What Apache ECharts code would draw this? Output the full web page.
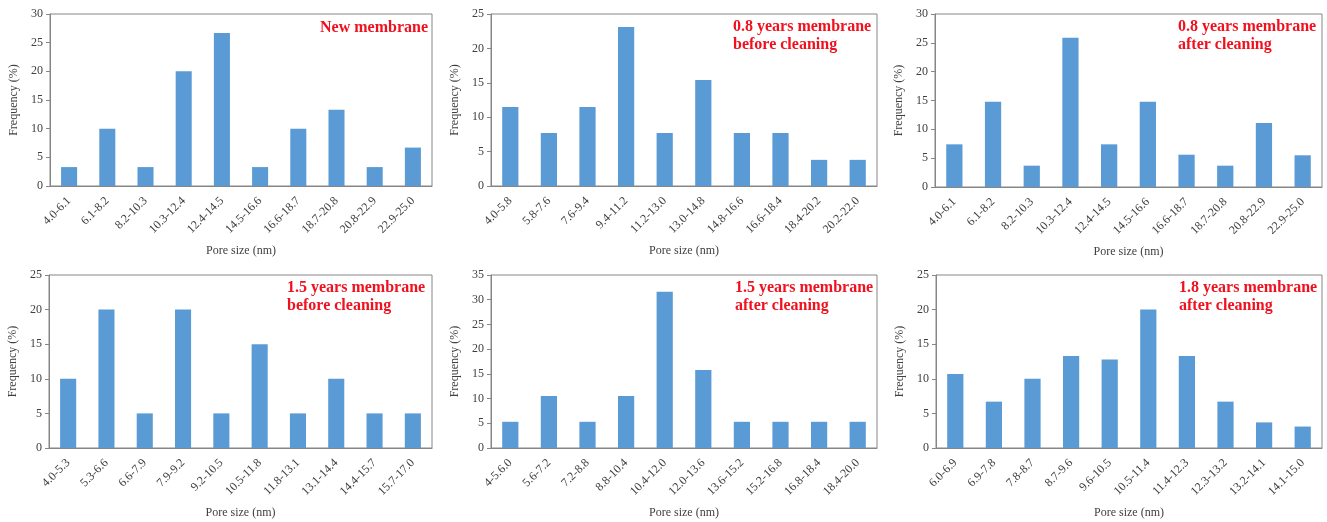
<!DOCTYPE html>
<html><head><meta charset="utf-8">
<script src="https://cdn.jsdelivr.net/npm/echarts@6/dist/echarts.min.js"></script>
<style>html,body{margin:0;padding:0;background:#fff}#c{width:1327px;height:522px}</style>
</head><body><div id="c"></div>
<script>
// Categories (pore size ranges, nm)
const cat1 = ['4.0-6.1','6.1-8.2','8.2-10.3','10.3-12.4','12.4-14.5','14.5-16.6','16.6-18.7','18.7-20.8','20.8-22.9','22.9-25.0'];
const cat2 = ['4.0-5.8','5.8-7.6','7.6-9.4','9.4-11.2','11.2-13.0','13.0-14.8','14.8-16.6','16.6-18.4','18.4-20.2','20.2-22.0'];
const cat3 = ['4.0-6.1','6.1-8.2','8.2-10.3','10.3-12.4','12.4-14.5','14.5-16.6','16.6-18.7','18.7-20.8','20.8-22.9','22.9-25.0'];
const cat4 = ['4.0-5.3','5.3-6.6','6.6-7.9','7.9-9.2','9.2-10.5','10.5-11.8','11.8-13.1','13.1-14.4','14.4-15.7','15.7-17.0'];
const cat5 = ['4-5.6.0','5.6-7.2','7.2-8.8','8.8-10.4','10.4-12.0','12.0-13.6','13.6-15.2','15.2-16.8','16.8-18.4','18.4-20.0'];
const cat6 = ['6.0-6.9','6.9-7.8','7.8-8.7','8.7-9.6','9.6-10.5','10.5-11.4','11.4-12.3','12.3-13.2','13.2-14.1','14.1-15.0'];
// Frequencies (%)
const val1 = [3.3, 10, 3.3, 20, 26.7, 3.3, 10, 13.3, 3.3, 6.7];
const val2 = [11.5, 7.7, 11.5, 23.1, 7.7, 15.4, 7.7, 7.7, 3.8, 3.8];
const val3 = [7.4, 14.8, 3.7, 25.9, 7.4, 14.8, 5.6, 3.7, 11.1, 5.5];
const val4 = [10, 20, 5, 20, 5, 15, 5, 10, 5, 5];
const val5 = [5.3, 10.5, 5.3, 10.5, 31.6, 15.8, 5.3, 5.3, 5.3, 5.3];
const val6 = [10.7, 6.7, 10, 13.3, 12.8, 20, 13.3, 6.7, 3.7, 3.1];
// Y axis maxima
const ymax = [30, 25, 30, 25, 35, 25];
// Panel titles
const titles = ['New membrane', '0.8 years membrane\nbefore cleaning', '0.8 years membrane\nafter cleaning',
  '1.5 years membrane\nbefore cleaning', '1.5 years membrane\nafter cleaning', '1.8 years membrane\nafter cleaning'];

const cats = [cat1, cat2, cat3, cat4, cat5, cat6];
const vals = [val1, val2, val3, val4, val5, val6];
const grids = [
  {left: 50, top: 14, width: 382, height: 172},
  {left: 491, top: 14, width: 386, height: 172},
  {left: 935, top: 14, width: 387, height: 173},
  {left: 49, top: 275, width: 383, height: 173},
  {left: 491, top: 275, width: 386, height: 173},
  {left: 936, top: 275, width: 386, height: 173}
];
const titlePos = [
  {right: 899, top: 19},
  {left: 733, top: 18},
  {left: 1178, top: 18},
  {left: 287, top: 279},
  {left: 735, top: 279},
  {left: 1179, top: 279}
];
const FONT = '"Liberation Serif", "Times New Roman", serif';
const txt = '#404040';
const axisC = '#868686';

const option = {
  animation: false,
  backgroundColor: '#fff',
  title: titles.map((t, i) => Object.assign({
    text: t, padding: 0,
    textStyle: {fontFamily: FONT, fontSize: 16, fontWeight: 'bold', color: '#f0101e', lineHeight: 18}
  }, titlePos[i])),
  grid: grids.map(g => Object.assign({show: true, borderColor: axisC, borderWidth: 1, backgroundColor: 'transparent'}, g)),
  xAxis: cats.map((c, i) => ({
    type: 'category', gridIndex: i, data: c,
    name: 'Pore size (nm)', nameLocation: 'middle', nameGap: 59,
    nameTextStyle: {fontFamily: FONT, fontSize: 12, color: txt},
    axisLine: {lineStyle: {color: axisC}},
    axisTick: {show: false},
    axisLabel: {interval: 0, rotate: 45, fontFamily: FONT, fontSize: 12, color: txt, margin: 13}
  })),
  yAxis: ymax.map((m, i) => ({
    type: 'value', gridIndex: i, min: 0, max: m, interval: 5,
    name: 'Frequency (%)', nameLocation: 'middle', nameGap: 30,
    nameTextStyle: {fontFamily: FONT, fontSize: 12, color: txt},
    axisLine: {show: true, lineStyle: {color: axisC}},
    axisTick: {show: true, length: 4, lineStyle: {color: axisC}},
    splitLine: {show: false},
    axisLabel: {fontFamily: FONT, fontSize: 12, color: txt, margin: 7}
  })),
  series: vals.map((v, i) => ({
    type: 'bar', xAxisIndex: i, yAxisIndex: i, data: v,
    barWidth: '42%',
    itemStyle: {color: '#5b9bd5'}
  }))
};
const chart = echarts.init(document.getElementById('c'), null, {renderer: 'canvas'});
chart.setOption(option);
</script>
</body></html>
